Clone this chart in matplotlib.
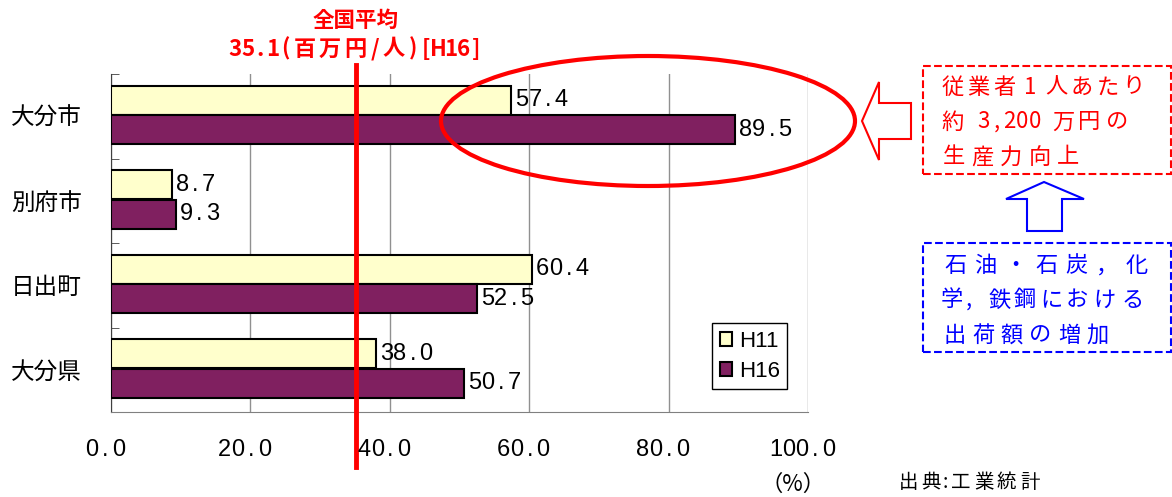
import numpy as np
import matplotlib
matplotlib.use("Agg")
import matplotlib.pyplot as plt
from matplotlib.patches import Ellipse, Polygon, Rectangle
import matplotlib.transforms as mtransforms

plt.rcParams['font.family'] = ['Noto Sans CJK JP', 'DejaVu Sans']

# data
cities = ['大分市', '別府市', '日出町', '大分県']
h11 = [57.4, 8.7, 60.4, 38.0]
h16 = [89.5, 9.3, 52.5, 50.7]
series_names = ['H11', 'H16']
national_avg = 35.1
x_ticks = [0, 20, 40, 60, 80, 100]

W, H = 1172, 497
fig = plt.figure(figsize=(W / 100, H / 100), dpi=100)


# pixel helpers (top-left origin) -> figure fraction
def fx(px):
    return px / W


def fy(py):
    return 1 - py / H


ax = fig.add_axes([fx(111), fy(412), fx(808) - fx(111), fy(74) - fy(412)])

yellow = '#FFFFCC'
purple = '#802060'
red = '#FF0000'
blue = '#0000FF'
latin = ['Liberation Sans', 'Noto Sans CJK JP']
cjk = ['Noto Sans CJK JP', 'DejaVu Sans']


# fixed pitch text, half width / full width cells like a gothic font
def mono(x, y, s, trans, pitch=13.2, ha='left', size=17, family=latin, **kw):
    cells = [2 if ord(ch) > 0x2000 else 1 for ch in s]
    start = 0 if ha == 'left' else -sum(cells) * pitch / 2
    for ch, c in zip(s, cells):
        t = mtransforms.offset_copy(trans, fig=fig, x=start + c * pitch / 2, y=0, units='dots')
        fig.text(x, y, ch, transform=t, ha='center', va='center', family=family, fontsize=size, **kw)
        start += c * pitch


pos = np.arange(len(cities))[::-1]
bh = 0.345
ax.barh(pos + 0.19, h11, height=bh, color=yellow, edgecolor='black', linewidth=1.5, label=series_names[0], zorder=3)
ax.barh(pos - 0.16, h16, height=bh, color=purple, edgecolor='black', linewidth=1.5, label=series_names[1], zorder=3)

lab_t = mtransforms.offset_copy(ax.transData, fig=fig, x=4, y=0, units='dots')
for p, a, b in zip(pos, h11, h16):
    mono(a, p + 0.19, f'{a:.1f}', lab_t)
    mono(b, p - 0.16, f'{b:.1f}', lab_t)

ax.set_xlim(0, 100)
ax.set_ylim(-0.5, 3.5)
ax.set_xticks(x_ticks)
ax.set_xticklabels([])
ax.tick_params(axis='x', length=0)
ax.xaxis.grid(True, color='#909090', linewidth=1)
ax.set_axisbelow(True)
tick_t = mtransforms.offset_copy(mtransforms.blended_transform_factory(ax.transData, fig.transFigure),
                                 fig=fig, x=-6, y=0, units='dots')
for v in x_ticks:
    mono(v, fy(450), f'{v:.1f}', tick_t, ha='center')

ax.set_yticks(pos)
ax.set_yticklabels(cities, fontsize=17)
ax.set_yticks(np.arange(-0.5, 4, 1), minor=True)
ax.tick_params(axis='y', which='major', length=0, pad=21)
ax.tick_params(axis='y', which='minor', direction='in', length=6, color='#404040')

for s in ['top', 'right']:
    ax.spines[s].set_visible(False)
ax.spines['left'].set_color('#404040')
ax.spines['bottom'].set_color('#808080')

leg = ax.legend(loc='upper left', bbox_to_anchor=(fx(712), fy(323)), bbox_transform=fig.transFigure,
                fancybox=False, edgecolor='black', framealpha=1, prop={'family': latin, 'size': 16},
                handlelength=0.55, handleheight=0.55, handletextpad=0.3, labelspacing=0.4,
                borderpad=0.35, borderaxespad=0)
leg.get_frame().set_linewidth(1)

# national average line
trans = mtransforms.blended_transform_factory(ax.transData, fig.transFigure)
ax.plot([national_avg, national_avg], [fy(65), fy(467)], color=red, linewidth=3.5,
        transform=trans, clip_on=False, zorder=5)
fig.text(national_avg, fy(20), '全国平均', transform=trans, ha='center', va='center',
         color=red, fontsize=15.5, fontweight='bold')
mono(national_avg, fy(49), f'{national_avg}(百万円/人)[H16]', trans, pitch=12.7, ha='center', size=16,
     family=cjk, color=red, fontweight='bold')

# ellipse around 大分市
fig.add_artist(Ellipse((fx(648), fy(121)), fx(414), 130 / H, fill=False,
                       edgecolor=red, linewidth=3, transform=fig.transFigure))


def pts(lst):
    return [(fx(x), fy(y)) for x, y in lst]


# left arrow (red)
fig.add_artist(Polygon(pts([(862, 121), (879, 82), (879, 103), (911, 103), (911, 139),
                            (879, 139), (879, 160)]), closed=True, fill=False,
                       edgecolor=red, linewidth=1.5, transform=fig.transFigure))
# up arrow (blue)
fig.add_artist(Polygon(pts([(1044, 182), (1084, 199), (1062, 199), (1062, 231), (1027, 231),
                            (1027, 199), (1006, 199)]), closed=True, fill=False,
                       edgecolor=blue, linewidth=1.5, transform=fig.transFigure))

# dashed boxes
fig.add_artist(Rectangle((fx(923), fy(174)), fx(1171) - fx(923), (174 - 66) / H, fill=False,
                         edgecolor=red, linestyle='--', linewidth=1.5, transform=fig.transFigure))
fig.add_artist(Rectangle((fx(923), fy(352)), fx(1171) - fx(923), (352 - 243) / H, fill=False,
                         edgecolor=blue, linestyle='--', linewidth=1.5, transform=fig.transFigure))


def spaced(x0, y, s, pitch, color, size=16):
    for i, ch in enumerate(s):
        fig.text(fx(x0 + (i + 0.5) * pitch), fy(y), ch, ha='center', va='center', color=color, fontsize=size)


def placed(y, tokens, color, size=16):
    for s, x in tokens:
        fig.text(fx(x), fy(y), s, ha='left', va='center', color=color, fontsize=size)


spaced(940, 87, '従業者1人あたり', 25.8, red)
placed(122, [('約', 941), ('万', 1052), ('円', 1078), ('の', 1106)], red)
mono(fx(977), fy(122), '3,200', fig.transFigure, pitch=13, size=16, family=cjk, color=red)
spaced(940, 157, '生産力向上', 28.5, red)
spaced(940, 266, '石油・石炭，化', 30.3, blue)
placed(300, [('学', 941), (',', 966), ('鉄', 989), ('鋼', 1014), ('に', 1040),
             ('お', 1066), ('け', 1093), ('る', 1122)], blue)
spaced(940, 335, '出荷額の増加', 28.7, blue)

fig.text(fx(793), fy(484), '（%）', ha='center', va='center', fontsize=16)
placed(482, [('出', 899), ('典', 921), (':', 943), ('工', 951), ('業', 974),
             ('統', 997), ('計', 1020)], 'black', size=14)

fig.savefig('out.png', dpi=100)
